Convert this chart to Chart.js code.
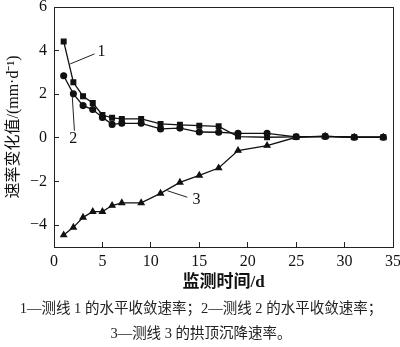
<!DOCTYPE html>
<html>
<head>
<meta charset="utf-8">
<script src="https://cdn.jsdelivr.net/npm/chart.js@4.4.1/dist/chart.umd.min.js"></script>
<style>
  body { margin: 0; background: #fff; }
  #wrap { position: relative; width: 400px; height: 347px; }
  .note { position: absolute; left: 0; width: 402px; text-align: center;
          font-family: "Liberation Serif", "Noto Sans CJK SC", serif; font-size: 14.5px; color: #222; }
</style>
</head>
<body>
<div id="wrap">
  <canvas id="mycanvas" width="400" height="347"></canvas>
  <div class="note" style="top:296px;">1—测线 1 的水平收敛速率；2—测线 2 的水平收敛速率；</div>
  <div class="note" style="top:321px;">3—测线 3 的拱顶沉降速率。</div>
</div>
<script>
// monitoring days (d)
var days = [1, 2, 3, 4, 5, 6, 7, 9, 11, 13, 15, 17, 19, 22, 25, 28, 31, 34];
// line 1: horizontal convergence rate (mm/d)
var line1 = [4.42, 2.55, 1.91, 1.6, 1.05, 0.92, 0.87, 0.87, 0.64, 0.6, 0.56, 0.53, 0.06, 0.03, 0.05, 0.07, 0.03, 0.03];
// line 2: horizontal convergence rate (mm/d)
var line2 = [2.85, 2.02, 1.48, 1.3, 0.94, 0.62, 0.67, 0.67, 0.41, 0.45, 0.27, 0.26, 0.21, 0.21, 0.05, 0.07, 0.03, 0.03];
// line 3: crown settlement rate (mm/d)
var line3 = [-4.45, -4.1, -3.64, -3.38, -3.38, -3.1, -2.98, -2.98, -2.54, -2.04, -1.72, -1.38, -0.58, -0.35, 0.03, 0.07, 0.03, 0.03];
var yTicks = [-4, -2, 0, 2, 4, 6];
var xTicks = [0, 5, 10, 15, 20, 25, 30, 35];
var seriesNames = ['1', '2', '3'];

function pts(ys) {
	var out = [];
	for (var i in days) out.push({x: days[i], y: ys[i]});
	return out;
}

// label callouts: text position and leader line, in data units
var callouts = [
	{text: seriesNames[0], tx: 4.9, ty: 3.93, from: [1.67, 3.39], to: [4.18, 3.85]},
	{text: seriesNames[1], tx: 2.0, ty: -0.03, from: [1.88, 1.94], to: [2.11, 0.33]},
	{text: seriesNames[2], tx: 14.7, ty: -2.84, from: [11.7, -2.42], to: [13.76, -2.72]}
];

var serif = '"Liberation Serif", "Noto Sans CJK SC", serif';

var extras = {
	id: 'extras',
	afterDraw: function(chart) {
		var ctx = chart.ctx, a = chart.chartArea;
		var xs = chart.scales.x, ys = chart.scales.y;
		ctx.save();
		ctx.strokeStyle = '#222';
		ctx.lineWidth = 1;
		ctx.strokeRect(Math.round(a.left) + 0.5, Math.round(a.top) + 0.5, Math.round(a.right - a.left), Math.round(a.bottom - a.top));
		ctx.font = '16px ' + serif;
		ctx.fillStyle = '#111';
		ctx.textAlign = 'center';
		ctx.textBaseline = 'middle';
		callouts.forEach(function(c) {
			ctx.beginPath();
			ctx.moveTo(xs.getPixelForValue(c.from[0]), ys.getPixelForValue(c.from[1]));
			ctx.lineTo(xs.getPixelForValue(c.to[0]), ys.getPixelForValue(c.to[1]));
			ctx.stroke();
			ctx.fillText(c.text, xs.getPixelForValue(c.tx), ys.getPixelForValue(c.ty));
		});
		ctx.restore();
	}
};

var common = {borderColor: '#111', backgroundColor: '#111', borderWidth: 1.3, showLine: true, pointRadius: 3, pointHoverRadius: 3};

var chart = new Chart(document.getElementById('mycanvas'), {
	type: 'scatter',
	data: {
		datasets: [
			Object.assign({label: seriesNames[0], data: pts(line1), pointStyle: 'rect'}, common, {pointRadius: 3.3}),
			Object.assign({label: seriesNames[1], data: pts(line2), pointStyle: 'circle'}, common, {pointRadius: 2.9}),
			Object.assign({label: seriesNames[2], data: pts(line3), pointStyle: 'triangle'}, common, {pointRadius: 3.3})
		]
	},
	options: {
		responsive: false,
		animation: false,
		layout: {padding: {top: 7, right: 7, left: 0, bottom: 50}},
		plugins: {legend: {display: false}, tooltip: {enabled: false}},
		scales: {
			x: {
				type: 'linear', min: 0, max: 35,
				afterBuildTicks: function(s) { s.ticks = xTicks.map(function(v) { return {value: v}; }); },
				afterFit: function(s) { s.height = 50; s.paddingLeft = 0; s.paddingRight = 0; },
				border: {display: false},
				grid: {drawOnChartArea: false, tickLength: -5, color: '#222'},
				ticks: {color: '#111', font: {family: serif, size: 16}, padding: 10, maxRotation: 0,
					callback: function(v) { return String(v); }},
				title: {display: true, text: '监测时间/d', color: '#111',
					font: {family: serif, size: 17, weight: 'bold'}, padding: {top: 0, bottom: 4}}
			},
			y: {
				type: 'linear', min: -5, max: 6,
				afterBuildTicks: function(s) { s.ticks = yTicks.map(function(v) { return {value: v}; }); },
				afterFit: function(s) { s.width = 54; s.paddingTop = 0; s.paddingBottom = 0; },
				border: {display: false},
				grid: {drawOnChartArea: false, tickLength: -5, color: '#222'},
				ticks: {color: '#111', font: {family: serif, size: 16}, padding: 12,
					callback: function(v) { return v < 0 ? '\u2212' + Math.abs(v) : String(v); }},
				title: {display: true, text: '速率变化值/(mm·d⁻¹)', color: '#111',
					font: {family: serif, size: 16}, padding: {top: 4, bottom: 0}}
			}
		}
	},
	plugins: [extras]
});
</script>
</body>
</html>
